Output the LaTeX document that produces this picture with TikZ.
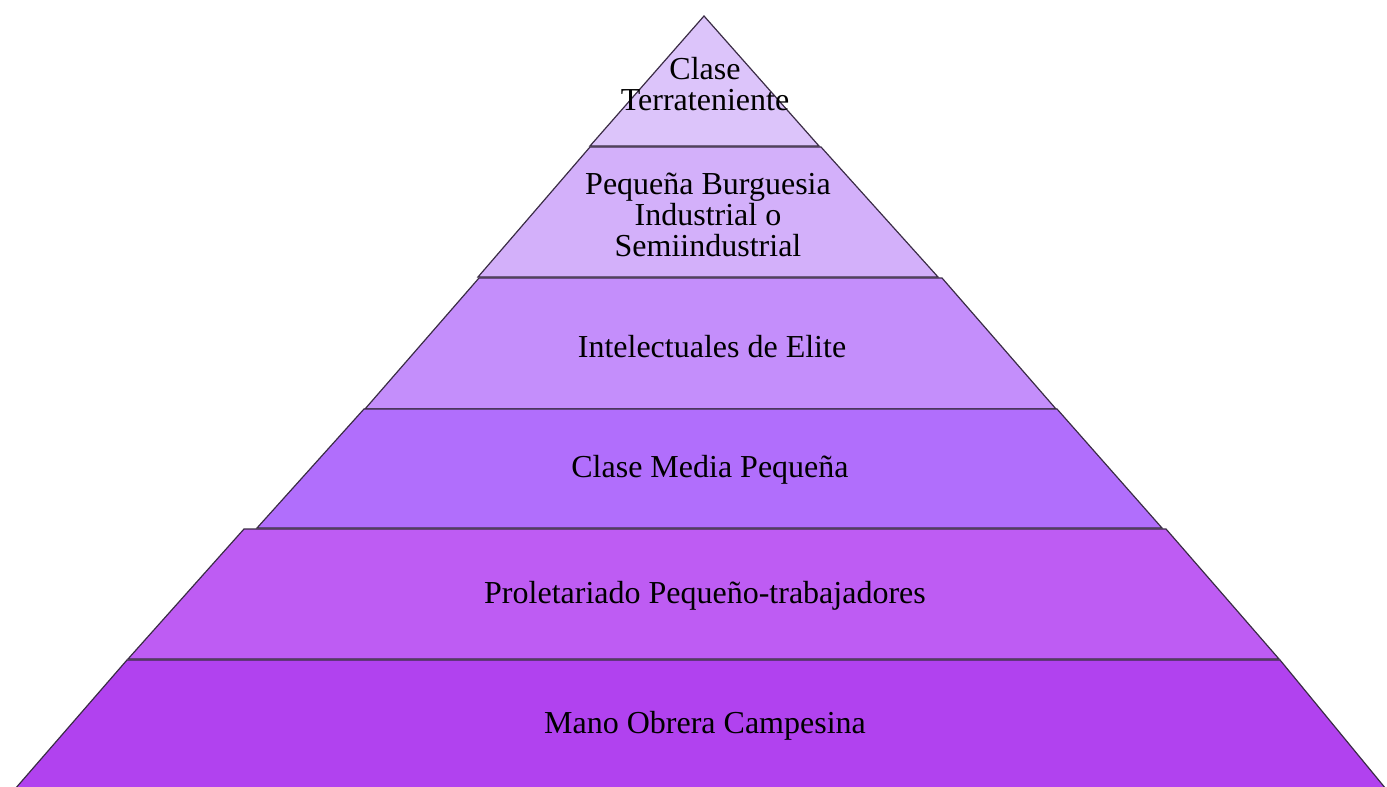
\documentclass[tikz,border=0pt]{standalone}
\usepackage{fontspec}
\setmainfont{Liberation Serif}
\definecolor{layA}{HTML}{DCC4FA}
\definecolor{layB}{HTML}{D3B0FA}
\definecolor{layC}{HTML}{C48EFB}
\definecolor{layD}{HTML}{B16EFC}
\definecolor{layE}{HTML}{BE5CF3}
\definecolor{layF}{HTML}{B142EF}
\definecolor{edge}{HTML}{3A2C45}
\begin{document}
\begin{tikzpicture}[x=1pt,y=-1pt,
  layer/.style={draw=edge,line width=1.2pt,line join=miter},
  lbl/.style={font=\fontsize{32}{31}\selectfont,align=center,text=black,inner sep=0pt}]
\useasboundingbox (0,0) rectangle (1387,787);
% pyramid tiers, top to bottom
\path[layer,fill=layA] (704,16) -- (819,146) -- (590,146) -- cycle;
\path[layer,fill=layB] (590,147) -- (821,147) -- (938,277) -- (478,277) -- cycle;
\path[layer,fill=layC] (479,278) -- (942,278) -- (1056,409) -- (365,409) -- cycle;
\path[layer,fill=layD] (364,409) -- (1057,409) -- (1162,528) -- (257,528) -- cycle;
\path[layer,fill=layE] (244,529) -- (1166,529) -- (1279,659) -- (128,659) -- cycle;
\path[layer,fill=layF] (127,660) -- (1280,660) -- (1386,789) -- (15,789) -- cycle;
% tier labels
\node[lbl] (t1) at (705,84) {Clase\\Terrateniente};
\node[lbl] (t2) at (708,215) {Pequeña Burguesia\\Industrial o\\Semiindustrial};
\node[lbl] (t3) at (712,347) {Intelectuales de Elite};
\node[lbl] (t4) at (710,470) {Clase Media Pequeña};
\node[lbl] (t5) at (705,596) {Proletariado Pequeño-trabajadores};
\node[lbl] (t6) at (705,726) {Mano Obrera Campesina};
\end{tikzpicture}
\end{document}
